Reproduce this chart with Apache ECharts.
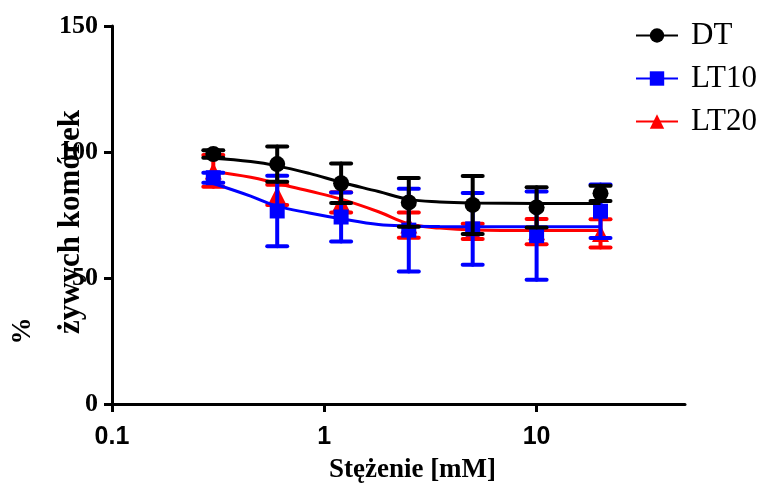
<!DOCTYPE html>
<html>
<head>
<meta charset="utf-8">
<script src="https://cdn.jsdelivr.net/npm/echarts@6/dist/echarts.min.js"></script>
<style>
  html, body { margin: 0; padding: 0; background: #fff; }
  #chart { width: 767px; height: 496px; }
</style>
</head>
<body>
<div id="chart"></div>
<script>
// Concentrations [mM]
const conc = [0.3, 0.6, 1.2, 2.5, 5, 10, 20];

// Mean viability (%) and standard deviation per concentration
const dtMean   = [99.2, 95.2, 87.6, 80.0, 79.0, 78.0, 83.6];
const dtSd     = [1.5, 7.0, 7.8, 9.7, 11.5, 8.0, 3.0];
const lt10Mean = [89.8, 76.6, 74.2, 69.0, 69.5, 66.8, 76.5];
const lt10Sd   = [2.0, 14.0, 9.7, 16.4, 14.2, 17.5, 10.6];
const lt20Mean = [92.5, 83.0, 80.0, 71.0, 68.5, 68.4, 67.7];
const lt20Sd   = [6.3, 4.0, 4.0, 5.0, 3.0, 5.0, 5.6];

// Fitted dose-response curves
const fitConc  = [0.3, 0.45, 0.6, 0.85, 1.2, 1.8, 2.5, 3.5, 5, 10, 20];
const dtFit    = [97.5, 96.2, 94.5, 91.5, 88.0, 84.3, 81.2, 80.2, 79.8, 79.6, 79.6];
const lt10Fit  = [87.5, 82.5, 78.5, 75.8, 73.5, 71.2, 70.6, 70.4, 70.3, 70.3, 70.3];
const lt20Fit  = [92.3, 90.0, 87.5, 84.5, 81.3, 76.3, 71.5, 69.8, 69.0, 68.8, 68.8];

const xTicks = [0.1, 1, 10];

const colors = { DT: '#000000', LT10: '#0000ff', LT20: '#ff0000' };
const serif = '"Liberation Serif", "Times New Roman", serif';
const sans = '"Liberation Sans", Arial, sans-serif';

function pairs(xs, ys) { return xs.map((x, i) => [x, ys[i]]); }

function errorSeries(name, means, sds, z) {
  return {
    type: 'custom',
    name: name,
    z: z,
    silent: true,
    data: conc.map((c, i) => [c, means[i] - sds[i], means[i] + sds[i]]),
    renderItem: function (params, api) {
      const lo = api.coord([api.value(0), api.value(1)]);
      const hi = api.coord([api.value(0), api.value(2)]);
      const half = 10;
      const style = { stroke: colors[name], lineWidth: 4, lineCap: 'round' };
      return {
        type: 'group',
        children: [
          { type: 'line', shape: { x1: lo[0], y1: lo[1], x2: hi[0], y2: hi[1] }, style: style },
          { type: 'line', shape: { x1: lo[0] - half, y1: lo[1], x2: lo[0] + half, y2: lo[1] }, style: style },
          { type: 'line', shape: { x1: hi[0] - half, y1: hi[1], x2: hi[0] + half, y2: hi[1] }, style: style }
        ]
      };
    }
  };
}

function curveSeries(name, ys, symbol, z) {
  return {
    type: 'line',
    name: name,
    z: z,
    data: pairs(fitConc, ys),
    smooth: 0.4,
    symbol: symbol,
    symbolSize: 18,
    showSymbol: false,
    lineStyle: { color: colors[name], width: 3 },
    itemStyle: { color: colors[name] },
    silent: true
  };
}

function markerSeries(name, means, symbol, size, z) {
  return {
    type: 'scatter',
    name: name,
    z: z,
    data: pairs(conc, means),
    symbol: symbol,
    symbolSize: size,
    itemStyle: { color: colors[name], opacity: 1 },
    silent: true
  };
}

const chart = echarts.init(document.getElementById('chart'), null, { renderer: 'canvas' });

chart.setOption({
  animation: false,
  backgroundColor: '#ffffff',
  grid: { left: 112, right: 82, top: 26, bottom: 92 },
  legend: {
    data: ['DT', 'LT10', 'LT20'],
    orient: 'vertical',
    left: 630,
    top: 15,
    itemWidth: 42,
    itemHeight: 18,
    itemGap: 12,
    textStyle: { fontFamily: serif, fontSize: 31, color: '#000', padding: [0, 0, 0, 8] }
  },
  xAxis: {
    type: 'log',
    logBase: 10,
    min: 0.1,
    max: 50,
    name: 'Stężenie [mM]',
    nameLocation: 'middle',
    nameGap: 53,
    nameTextStyle: { fontFamily: serif, fontWeight: 'bold', fontSize: 27, color: '#000', padding: [0, 0, 0, 28] },
    axisLine: { onZero: false, lineStyle: { color: '#000', width: 3 } },
    axisTick: { length: 8, lineStyle: { color: '#000', width: 3 }, customValues: xTicks },
    axisLabel: { fontFamily: sans, fontWeight: 'bold', fontSize: 25, color: '#000', margin: 21, customValues: xTicks },
    splitLine: { show: false },
    minorTick: { show: false }
  },
  yAxis: {
    type: 'value',
    min: 0,
    max: 150,
    interval: 50,
    axisLine: { show: true, lineStyle: { color: '#000', width: 3 } },
    axisTick: { show: true, length: 8, lineStyle: { color: '#000', width: 3 } },
    axisLabel: { fontFamily: serif, fontWeight: 'bold', fontSize: 26, color: '#000', margin: 14 },
    splitLine: { show: false }
  },
  graphic: [
    {
      type: 'text', x: 23, y: 331, rotation: Math.PI / 2,
      style: { text: '%', font: 'bold 27px ' + serif, fill: '#000', align: 'center', verticalAlign: 'middle' }
    },
    {
      type: 'text', x: 71, y: 222, rotation: Math.PI / 2,
      style: { text: 'żywych komórek', font: 'bold 31px ' + serif, fill: '#000', align: 'center', verticalAlign: 'middle' }
    }
  ],
  series: [
    curveSeries('DT', dtFit, 'circle', 30),
    curveSeries('LT10', lt10Fit, 'rect', 20),
    curveSeries('LT20', lt20Fit, 'triangle', 10),
    errorSeries('LT20', lt20Mean, lt20Sd, 11),
    markerSeries('LT20', lt20Mean, 'triangle', 17, 12),
    errorSeries('LT10', lt10Mean, lt10Sd, 21),
    markerSeries('LT10', lt10Mean, 'rect', 15, 22),
    errorSeries('DT', dtMean, dtSd, 31),
    markerSeries('DT', dtMean, 'circle', 16, 32)
  ]
});
</script>
</body>
</html>
